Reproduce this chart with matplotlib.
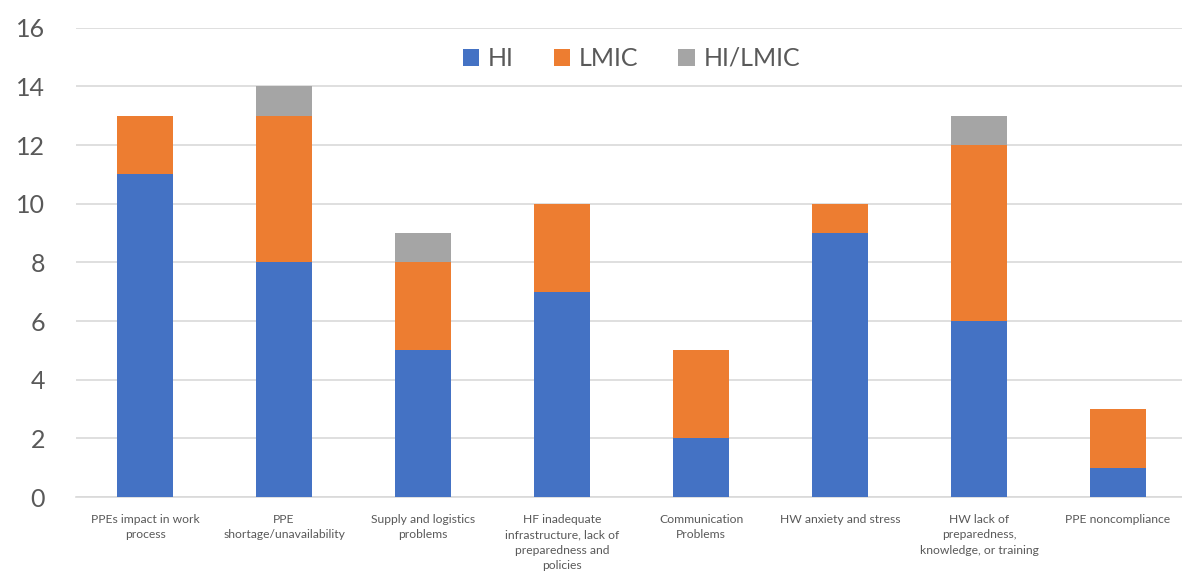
import numpy as np
import matplotlib.pyplot as plt

plt.rcParams['font.family'] = ['Lato', 'DejaVu Sans']

categories = [
    'PPEs impact in work\nprocess',
    'PPE\nshortage/unavailability',
    'Supply and logistics\nproblems',
    'HF inadequate\ninfrastructure, lack of\npreparedness and\npolicies',
    'Communication\nProblems',
    'HW anxiety and stress',
    'HW lack of\npreparedness,\nknowledge, or training',
    'PPE noncompliance',
]
hi = [11, 8, 5, 7, 2, 9, 6, 1]
lmic = [2, 5, 3, 3, 3, 1, 6, 2]
hi_lmic = [0, 1, 1, 0, 0, 0, 1, 0]

x = np.arange(len(categories))
w = 0.4

fig = plt.figure(figsize=(11.82, 5.74), dpi=100)
ax = fig.add_axes([0.0639, 0.1341, 0.9408, 0.8175])

ax.bar(x, hi, w, color='#4472C4', label='HI', zorder=3)
ax.bar(x, lmic, w, bottom=hi, color='#ED7D31', label='LMIC', zorder=3)
ax.bar(x, hi_lmic, w, bottom=np.add(hi, lmic), color='#A5A5A5', label='HI/LMIC', zorder=3)

ax.set_xlim(-0.5, len(categories) - 0.5)
ax.set_ylim(0, 16)
ax.set_yticks(range(0, 17, 2))
ax.yaxis.grid(True, color='#D9D9D9', linewidth=1.2, zorder=0)
ax.tick_params(axis='y', length=0, labelsize=18, labelcolor='#595959', pad=22)
ax.tick_params(axis='x', length=0, labelsize=8.7, labelcolor='#595959', pad=12)
ax.set_xticks(x)
ax.set_xticklabels(categories, linespacing=1.5, va='top')
for s in ['top', 'right', 'left']:
    ax.spines[s].set_visible(False)
ax.spines['bottom'].set_color('#D9D9D9')
ax.spines['bottom'].set_linewidth(1.2)

ax.legend(loc='upper center', bbox_to_anchor=(0.5, 1.007), ncol=3, frameon=False,
          fontsize=18, labelcolor='#595959', handlelength=0.65, handleheight=0.65,
          handletextpad=0.35, columnspacing=1.6)

fig.savefig('out.png', dpi=100)
